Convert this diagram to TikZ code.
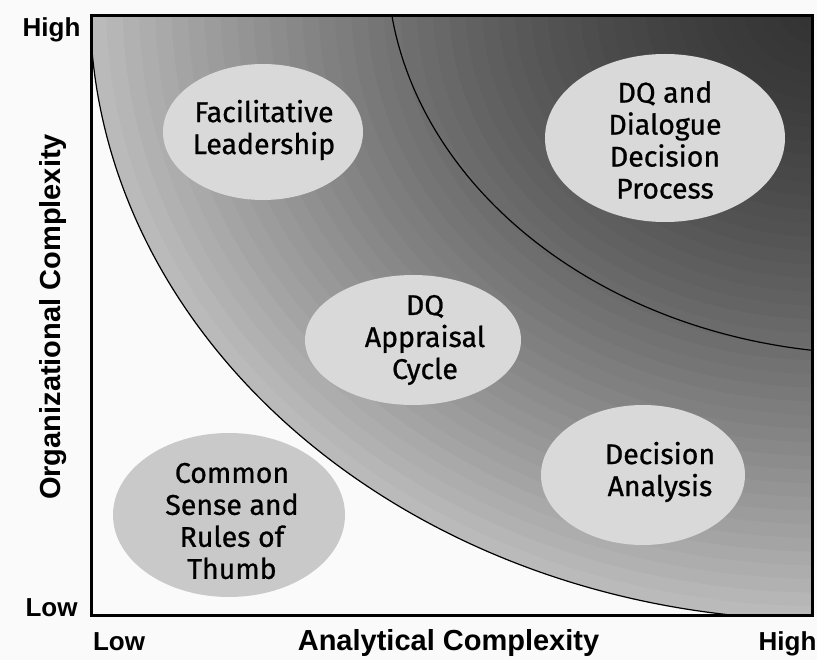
\documentclass[tikz,border=0pt]{standalone}
\usepackage{fontspec}
\setmainfont{Fira Sans}
\newfontfamily\blobfont{Fira Sans}[FakeBold=0.8]
\newfontfamily\axisfont{Liberation Sans}
\usetikzlibrary{shapes.geometric}
\definecolor{bggray}{gray}{0.98}
\definecolor{blobgray}{gray}{0.85}
\definecolor{blobgraydark}{gray}{0.79}
\begin{document}
\begin{tikzpicture}[x=1pt,y=-1pt,
  blob/.style={ellipse, fill=blobgray, inner sep=0pt},
  blobtxt/.style={align=center, inner sep=0pt, font=\blobfont\fontsize{28.5}{32}\selectfont},
  axlbl/.style={font=\axisfont\bfseries\fontsize{26}{30}\selectfont, inner sep=0pt, anchor=base},
  axtitle/.style={font=\axisfont\bfseries\fontsize{29}{34}\selectfont, inner sep=0pt, anchor=base},
  curve/.style={line width=1.2pt, draw=black}
]
\useasboundingbox (0,0) rectangle (817,660);
\fill[bggray] (0,0) rectangle (817,660);
\coordinate (gc) at (825,5);
\coordinate (ic) at (880,-40);
\coordinate (bl) at (91,615);
\coordinate (tr) at (812,16);
\begin{scope}
  \clip (bl) rectangle (tr);
  \foreach \i in {0,...,44} {
    \pgfmathsetmacro\bandr{1-\i/45}
    \pgfmathsetmacro\bandg{0.20+0.53*\bandr^1.5}
    \pgfmathsetmacro\bandx{735*\bandr}
    \pgfmathsetmacro\bandy{615*\bandr}
    \definecolor{band}{gray}{\bandg}
    \fill[band] (gc) ellipse [x radius=\bandx pt, y radius=\bandy pt];
  }
  \draw[curve] (gc) ellipse [x radius=735pt, y radius=615pt];
  \draw[curve] (ic) ellipse [x radius=493pt, y radius=394pt];
\end{scope}
\draw[line width=3pt] (bl) rectangle (tr);

% ellipses
\node[blob, minimum width=200pt, minimum height=136pt] (fl) at (263,132) {};
\node[blob, minimum width=240pt, minimum height=168pt] (dq) at (665,138) {};
\node[blob, minimum width=216pt, minimum height=130pt] (ap) at (413,340) {};
\node[blob, minimum width=204pt, minimum height=140pt] (da) at (643,475) {};
\node[blob, fill=blobgraydark, minimum width=232pt, minimum height=164pt] (cs) at (229,515) {};

\node[blobtxt] (flt) at (264,130) {Facilitative\\Leadership};
\node[blobtxt] (dqt) at (665,140) {DQ and\\Dialogue\\Decision\\Process};
\node[blobtxt] (apt) at (425,340) {DQ\\Appraisal\\Cycle};
\node[blobtxt] (dat) at (660,472) {Decision\\Analysis};
\node[blobtxt] (cst) at (232,521) {Common\\Sense and\\Rules of\\Thumb};

% axis labels
\node[axlbl] (yhigh) at (51.5,37) {High};
\node[axlbl] (ylow) at (51.5,616) {Low};
\node[axlbl] (xlow) at (119,650) {Low};
\node[axlbl] (xhigh) at (787.5,650) {High};
\node[axtitle] (xtitle) at (448.5,650) {Analytical Complexity};
\node[axtitle, rotate=90] (ytitle) at (60,317) {Organizational Complexity};
\end{tikzpicture}
\end{document}
